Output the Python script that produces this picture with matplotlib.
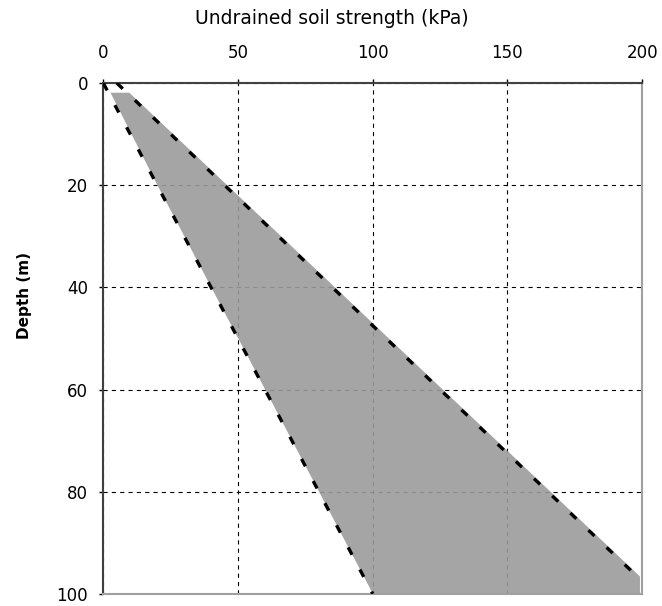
import matplotlib
matplotlib.use('Agg')
import matplotlib.pyplot as plt

plt.rcParams['lines.scale_dashes'] = False

# depth profile of the soil strength band
band_depth = [1.8, 20, 40, 60, 80, 96.5, 100]
band_lower = [2.5, 20, 40, 60, 80, 96.5, 100]
band_upper = [9.5, 46, 86, 126, 166, 199, 199]

# dashed bounding lines
lower_line_depth = [0, 100]
lower_line_su = [0, 100]
upper_line_depth = [0, 96.5]
upper_line_su = [5, 198]

x_ticks = [0, 50, 100, 150, 200]
y_ticks = [0, 20, 40, 60, 80, 100]

fig = plt.figure(figsize=(6.62, 6.06), dpi=100)
ax = fig.add_axes([0.156, 0.020, 0.814, 0.843])

ax.fill_betweenx(band_depth, band_lower, band_upper, color='#9b9b9b', alpha=0.9,
                 linewidth=0, zorder=2)
ax.plot(lower_line_su, lower_line_depth, color='black', lw=2.4, dashes=(6, 12), zorder=3)
ax.plot(upper_line_su, upper_line_depth, color='black', lw=2.4, dashes=(6, 12), zorder=3)

ax.set_xlim(0, 200)
ax.set_ylim(100, 0)
ax.set_xticks(x_ticks)
ax.set_yticks(y_ticks)
ax.xaxis.tick_top()
ax.xaxis.set_label_position('top')
ax.set_xlabel('Undrained soil strength (kPa)', fontsize=13.5)
ax.xaxis.set_label_coords(0.424, 1.127)
ax.xaxis.label.set_va('center')
ax.set_ylabel('Depth (m)', fontsize=11, fontweight='bold')
ax.yaxis.set_label_coords(-0.146, 0.585)
ax.yaxis.label.set_va('center')
ax.tick_params(axis='x', labelsize=12, length=3, width=1, pad=12)
ax.tick_params(axis='y', labelsize=12, length=3, width=1, pad=8)

ax.grid(True, color='black', linestyle=(0, (3, 3)), linewidth=0.8, zorder=1)
ax.set_axisbelow(True)

ax.spines['left'].set_color('#404040')
ax.spines['top'].set_color('#404040')
ax.spines['right'].set_color('#a0a0a0')
ax.spines['bottom'].set_color('#a0a0a0')
for s in ax.spines.values():
    s.set_linewidth(1.5)

fig.savefig('out.png', dpi=100)
